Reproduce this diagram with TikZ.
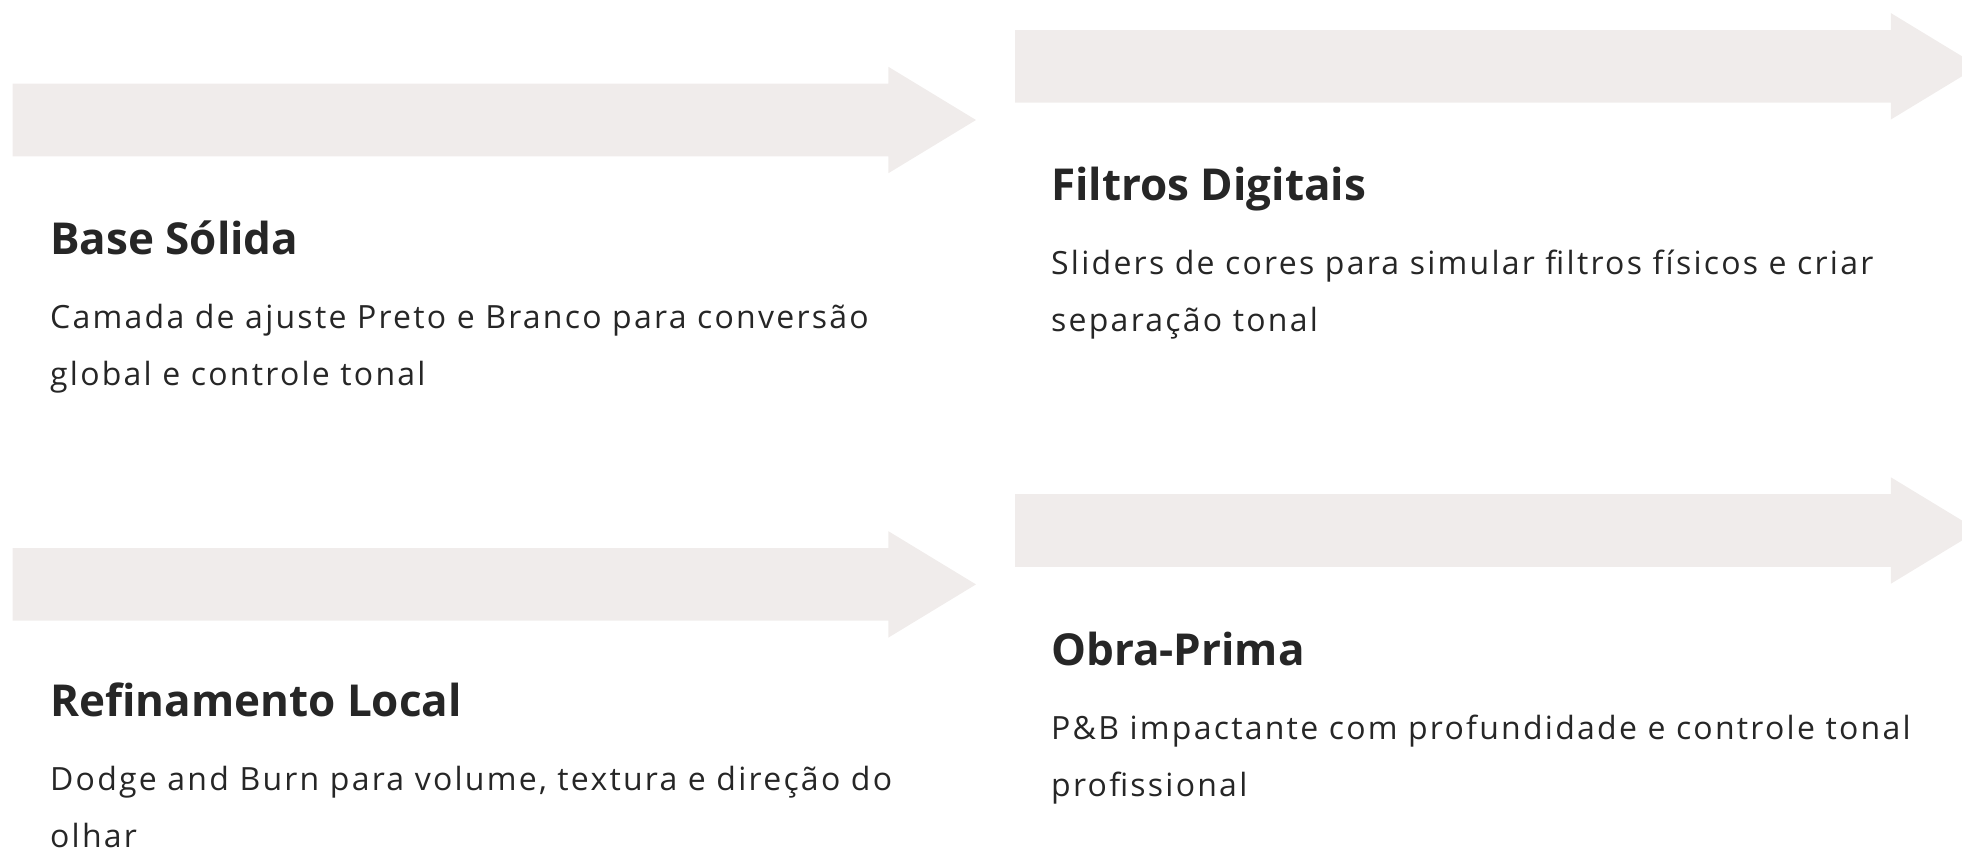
\documentclass[tikz,border=0pt]{standalone}
\usepackage{fontspec}
\setmainfont{Open Sans}
\definecolor{arrowfill}{HTML}{F0ECEB}
\definecolor{inktext}{HTML}{262626}
% flat arrow: left end x, middle y
\newcommand{\stagearrow}[2]{%
  \fill[arrowfill] (#1,#2-36.3) -- ++(875.9,0) -- ++(0,-16.9) -- ++(87.6,53.2)
    -- ++(-87.6,53.2) -- ++(0,-16.9) -- (#1,#2+36.3) -- cycle;}

\begin{document}
\begin{tikzpicture}[x=1pt,y=-1pt]
  \useasboundingbox (0,0) rectangle (1962,849);
  \begin{scope}[
      title/.style={anchor=base west, inner sep=0, text=inktext,
        font=\fontsize{44}{54}\selectfont\bfseries},
      desc/.style={anchor=base west, inner sep=0, text=inktext, align=left,
        font=\fontsize{32}{57}\selectfont\addfontfeature{LetterSpace=7}}
    ]

    \stagearrow{12.5}{120}
    \stagearrow{1015}{66.3}
    \stagearrow{12.5}{584.4}
    \stagearrow{1015}{530.5}

    % base of a two-line node is its last line
    \node[title] (base) at (50,254) {Base Sólida};
    \node[desc] (baseDesc) at ([yshift=-131pt]base.base west)
      {Camada de ajuste Preto e Branco para conversão\\global e controle tonal};

    \node[title] (filtros) at (1051,200.7) {Filtros Digitais};
    \node[desc] (filtrosDesc) at ([yshift=-131pt]filtros.base west)
      {Sliders de cores para simular filtros físicos e criar\\separação tonal};

    \node[title] (refino) at (50,716.5) {Refinamento Local};
    \node[desc] (refinoDesc) at ([yshift=-131pt]refino.base west)
      {Dodge and Burn para volume, textura e direção do\\olhar};

    \node[title] (obra) at (1051,665) {Obra-Prima};
    \node[desc] (obraDesc) at ([yshift=-131pt]obra.base west)
      {P\&B impactante com profundidade e controle tonal\\profissional};
  \end{scope}
\end{tikzpicture}
\end{document}
